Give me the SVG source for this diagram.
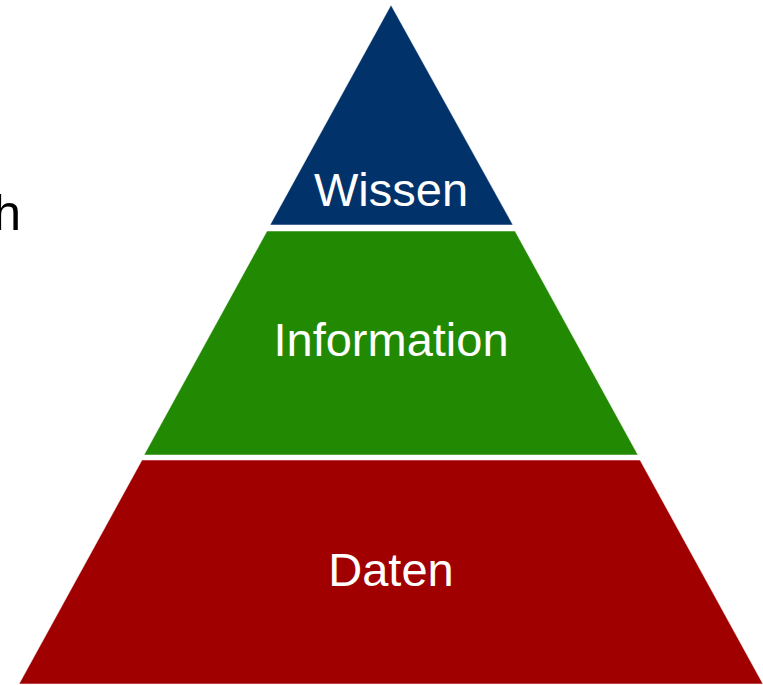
<svg xmlns="http://www.w3.org/2000/svg" width="763" height="685" viewBox="0 0 763 685">
<style>
.lbl{font-family:"Liberation Sans",Arial,sans-serif;font-size:47px;fill:#ffffff;text-anchor:middle}
.side{font-family:"Liberation Sans",Arial,sans-serif;font-size:50px;fill:#000000;text-anchor:end}
.lay{stroke:#ffffff;stroke-width:1;stroke-opacity:0.5}
</style>
<rect width="763" height="685" fill="#ffffff"/>
<text class="side" x="21" y="230">h</text>
<g id="wissen">
<polygon class="lay" points="391,5 513,225 270,225" fill="#02326A"/>
<text class="lbl" x="391" y="206">Wissen</text>
</g>
<g id="information">
<polygon class="lay" points="267,231 515,231 638,455 144,455" fill="#218A02"/>
<text class="lbl" x="391" y="356">Information</text>
</g>
<g id="daten">
<polygon class="lay" points="142,460 640,460 763,684 19,684" fill="#A10000"/>
<text class="lbl" x="391" y="586">Daten</text>
</g>
<g id="connectors"/>
</svg>
